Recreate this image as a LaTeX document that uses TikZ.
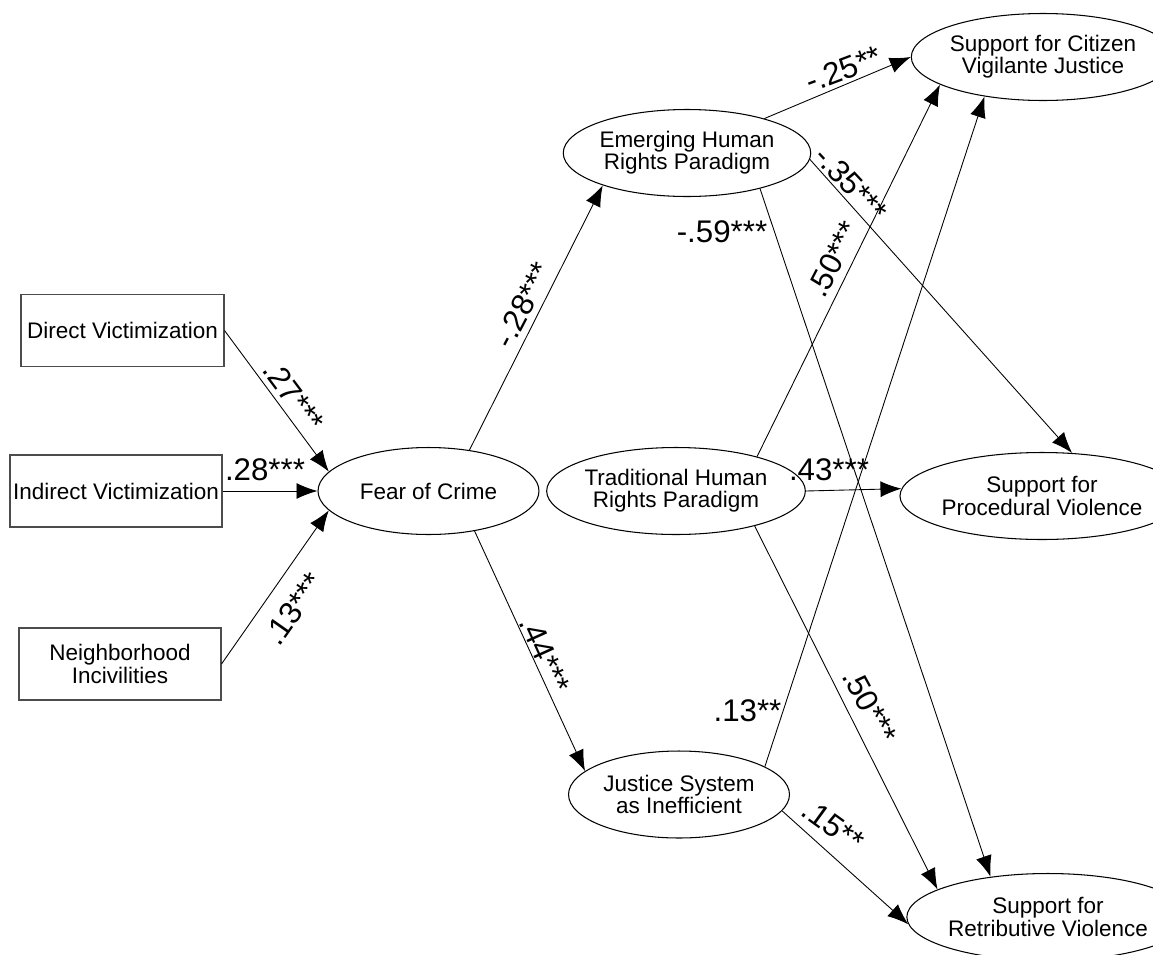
\documentclass[tikz,border=0pt]{standalone}
\usepackage{fontspec}
\setmainfont{Liberation Sans}
\usetikzlibrary{shapes.geometric,arrows.meta}
\tikzset{
  latent/.style={ellipse,draw,line width=0.6pt,minimum width=4.42cm,minimum height=1.74cm,inner sep=0pt,align=center,font=\fontsize{12.8}{12.6}\selectfont},
  observed/.style={rectangle,draw=black!70,line width=0.6pt,minimum height=1.44cm,inner sep=0pt,align=center,font=\fontsize{12.8}{12.6}\selectfont},
  coef/.style={inner sep=0pt,font=\fontsize{17.8}{17.8}\selectfont}
}
\begin{document}
\begin{tikzpicture}[x=0.02cm,y=-0.02cm]
\useasboundingbox (0,0) rectangle (1153,954);
\node[observed,minimum width=4.06cm] (DV) at (122.5,330.5) {Direct Victimization};
\node[observed,minimum width=4.24cm] (IV) at (116,491) {Indirect Victimization};
\node[observed,minimum width=4.04cm] (NI) at (120,664) {Neighborhood\\Incivilities};
\node[latent] (FC) at (428.5,491) {Fear of Crime};
\node[latent] (EH) at (687,153) {Emerging Human\\Rights Paradigm};
\node[latent] (TH) at (676,491) {Traditional Human\\Rights Paradigm};
\node[latent] (JS) at (679,794.5) {Justice System\\as Inefficient};
\node[latent] (VJ) at (1043,57) {Support for Citizen\\Vigilante Justice};
\node[latent] (PV) at (1042,496) {Support for\\Procedural Violence};
\node[latent] (RV) at (1048,917) {Support for\\Retributive Violence};

\begin{scope}[-{Latex[length=0.42cm,width=0.32cm]},line width=0.5pt]
    \draw (DV.east) -- (FC.169);
    \draw (IV.east) -- (FC.180);
    \draw (NI.east) -- (FC.191);
    \draw (FC.45) -- (EH.201);
    \draw (FC.319) -- (JS.166);
    \draw (EH.24) -- (VJ.180);
    \draw (EH.357) -- (PV.55);
    \draw (EH.334) -- (RV.145);
    \draw (TH.23) -- (VJ.195);
    \draw (TH.east) -- (PV.177);
    \draw (TH.336) -- (RV.166);
    \draw (JS.18) -- (VJ.214);
    \draw (JS.351) -- (RV.183);
\end{scope}

\node[coef,rotate=-53.3] (c27) at (294,396) {.27***};
\node[coef] (c28) at (265,470) {.28***};
\node[coef,rotate=54.9] (c13a) at (294,609) {.13***};
\node[coef,rotate=62.5] (c28n) at (523,305) {-.28***};
\node[coef,rotate=-65.7] (c44) at (545,655) {.44***};
\node[coef,rotate=20.7] (c25) at (843.5,69) {-.25**};
\node[coef,rotate=-47] (c35) at (851,184) {-.35***};
\node[coef] (c59) at (722,232) {-.59***};
\node[coef,rotate=62.5] (c50a) at (833,259.5) {.50***};
\node[coef] (c43) at (829,470) {.43***};
\node[coef,rotate=-61.4] (c50b) at (870,706) {.50***};
\node[coef] (c13b) at (747.5,711) {.13**};
\node[coef,rotate=-36] (c15) at (833,825.5) {.15**};
\end{tikzpicture}
\end{document}
